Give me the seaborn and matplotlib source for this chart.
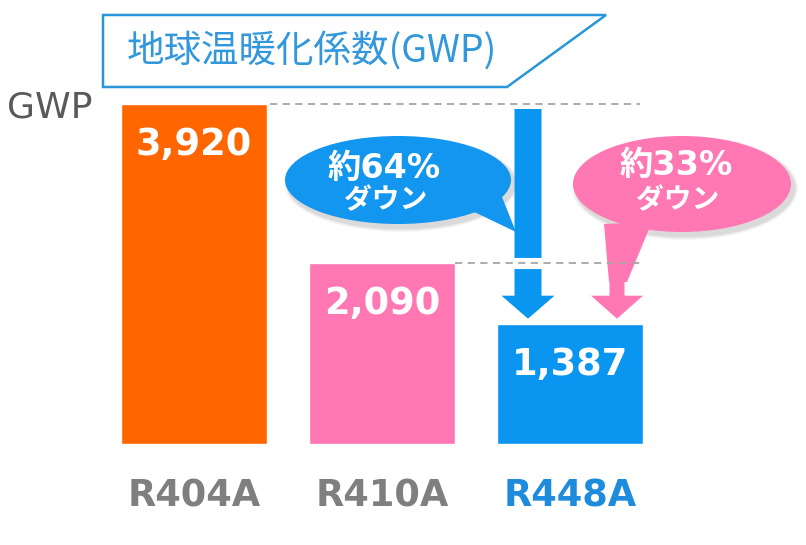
import matplotlib
matplotlib.use("Agg")
import matplotlib.pyplot as plt
import seaborn as sns
import pandas as pd
from matplotlib.patches import Polygon, Ellipse, FancyArrow

# ---------------- data ----------------
categories = ["R404A", "R410A", "R448A"]
gwp_values = [3920, 2090, 1387]
value_labels = ["3,920", "2,090", "1,387"]
bar_colors = ["#FF6600", "#FF78B4", "#0A96F0"]
label_colors = ["#7F7F7F", "#7F7F7F", "#1E8CDC"]
title_text = "地球温暖化係数(GWP)"
axis_label = "GWP"
reduction_texts = ["約64%", "約33%"]
down_text = "ダウン"

# ---------------- layout helpers ----------------
W, H = 806, 545
BASE = 444                 # pixel row of the bar base
PX_PER_UNIT = 340 / 3920   # vertical pixels per GWP unit
X0, DX = 194, 188          # pixel centre of first bar, spacing

sns.set_theme(style="white")
plt.rcParams["font.family"] = ["DejaVu Sans", "Noto Sans CJK JP"]

fig = plt.figure(figsize=(W / 100, H / 100), dpi=100)
ax = fig.add_axes([0, (H - BASE) / H, 1, BASE / H])


def P(px, py):
    """pixel position -> data coordinates"""
    return ((px - X0) / DX, (BASE - py) / PX_PER_UNIT)


def wx(pw):
    return pw / DX


def hy(ph):
    return ph / PX_PER_UNIT


df = pd.DataFrame({"refrigerant": categories, "gwp": gwp_values})
sns.barplot(data=df, x="refrigerant", y="gwp", hue="refrigerant",
            palette=bar_colors, width=0.78, saturation=1, legend=False,
            ax=ax, zorder=1)

ax.set_xlim(P(0, 0)[0], P(W, 0)[0])
ax.set_ylim(0, BASE / PX_PER_UNIT)
for s in ax.spines.values():
    s.set_visible(False)
ax.set_yticks([])
ax.set_xlabel("")
ax.set_ylabel("")
ax.set_xticks(range(len(categories)))
ax.set_xticklabels(categories, fontsize=26.5, fontweight="bold",
                   family="DejaVu Sans")
for lbl, c in zip(ax.get_xticklabels(), label_colors):
    lbl.set_color(c)
ax.tick_params(axis="x", length=0, pad=24)

# value labels inside bars
for i, (v, t) in enumerate(zip(gwp_values, value_labels)):
    ax.text(i, v - hy(51), t, ha="center", va="baseline", color="white",
            fontsize=26.5, fontweight="bold", family="DejaVu Sans", zorder=6)

# dashed reference lines
ax.plot([P(270, 0)[0], P(640, 0)[0]], [gwp_values[0]] * 2, color="#A6A6A6",
        lw=1.3, dashes=(4, 3), zorder=2)

# blue arrow (R404A -> R448A)
bx = P(528, 0)[0]
gap = hy(5)
ax.add_patch(FancyArrow(bx, gwp_values[0] - gap, 0,
                        -(gwp_values[0] - gwp_values[2] - 2 * gap),
                        width=wx(27), head_width=wx(53), head_length=hy(23),
                        length_includes_head=True, color="#0A96F0", lw=0,
                        zorder=3))
# white break where second dashed line crosses
ax.plot([bx - wx(16), bx + wx(16)], [gwp_values[1]] * 2, color="white",
        lw=8, solid_capstyle="butt", zorder=3.5)
ax.plot([P(455, 0)[0], P(640, 0)[0]], [gwp_values[1]] * 2, color="#A6A6A6",
        lw=1.3, dashes=(4, 3), zorder=4)

# pink arrow (R410A -> R448A)
pxa = P(617, 0)[0]
ax.add_patch(FancyArrow(pxa, gwp_values[1] + hy(3), 0,
                        -(gwp_values[1] + hy(3) - gwp_values[2] - gap),
                        width=wx(15), head_width=wx(52), head_length=hy(23),
                        length_includes_head=True, color="#FF78B4", lw=0,
                        zorder=3))


def bubble(cx, cy, w, h, tail, color):
    # soft shadow
    for k, a in ((8, 0.04), (5, 0.05), (3, 0.06)):
        sx, sy = P(cx + 3, cy + 4)
        ax.add_patch(Ellipse((sx, sy), wx(w + k), hy(h + k), color="#000000",
                             alpha=a, lw=0, zorder=2.6))
    ex, ey = P(cx, cy)
    ax.add_patch(Ellipse((ex, ey), wx(w), hy(h), color=color, lw=0,
                         zorder=3))
    ax.add_patch(Polygon([P(*p) for p in tail], closed=True, color=color,
                         lw=0, zorder=3))


bubble(398, 180, 226, 88, [(466, 208), (500, 192), (516, 232)], "#1296F0")
bubble(682, 184, 218, 96, [(604, 224), (652, 222), (627, 282), (609, 282)],
       "#FF78B4")

txt_kw = dict(ha="center", va="baseline", color="white", fontweight="bold",
              family=["DejaVu Sans", "Noto Sans CJK JP"], zorder=6)
ax.text(*P(384, 178), reduction_texts[0], fontsize=24, **txt_kw)
ax.text(*P(386, 208), down_text, fontsize=20, **txt_kw)
ax.text(*P(676, 175), reduction_texts[1], fontsize=24, **txt_kw)
ax.text(*P(678, 208), down_text, fontsize=20, **txt_kw)

# title box
ax.add_patch(Polygon([P(103, 15), P(606, 15), P(507, 87), P(103, 87)],
                     closed=True, facecolor="white", edgecolor="#2A96DA",
                     lw=1.8, zorder=5, clip_on=False))
ax.text(*P(312, 51), title_text, ha="center", va="center", fontsize=27,
        color="#3398DB", family=["Noto Sans CJK JP", "DejaVu Sans"],
        zorder=6)

# axis label
ax.text(*P(7, 118), axis_label, ha="left", va="baseline", fontsize=26,
        color="#595959", family="DejaVu Sans", zorder=6)

fig.savefig("out.png", dpi=100, facecolor="white")
